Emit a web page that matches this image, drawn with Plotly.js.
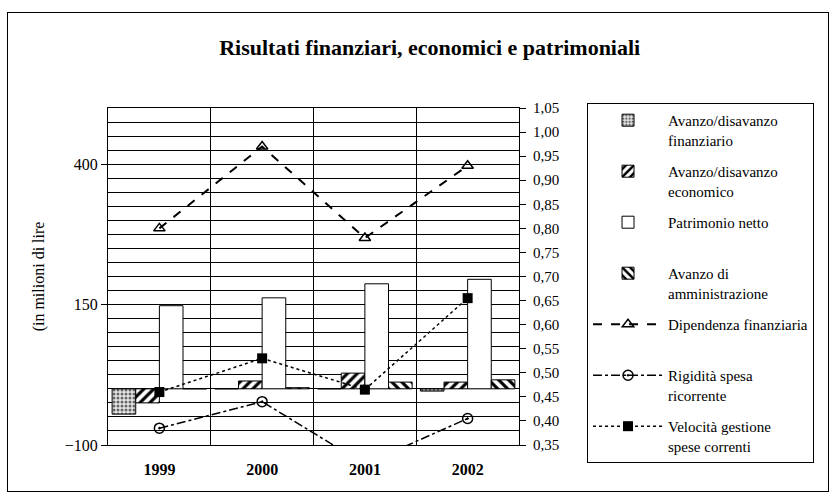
<!DOCTYPE html>
<html>
<head>
<meta charset="utf-8">
<script src="https://cdn.plot.ly/plotly-3.0.1.min.js"></script>
<style>
  html, body { margin: 0; padding: 0; background: #fff; }
  #chart { width: 836px; height: 502px; }
  /* outer frame of the scanned figure */
  #frame { position: absolute; left: 7px; top: 12px; width: 820px; height: 478px; border: 1.5px solid #000; pointer-events: none; }
</style>
</head>
<body>
<div id="chart"></div>
<div id="frame"></div>
<script>
const years = ['1999', '2000', '2001', '2002'];

// bars - left axis (in milioni di lire)
const avanzoFinanziario = [-45, 0, 0, -4];
const avanzoEconomico = [-25, 14, 28, 12];
const patrimonioNetto = [148, 162, 187, 195];
const avanzoAmministrazione = [0, 2, 12, 16];

// indicators - right axis
const dipendenzaFinanziaria = [0.80, 0.97, 0.78, 0.93];
const rigiditaSpesa = [0.385, 0.44, 0.31, 0.405];
const velocitaGestione = [0.46, 0.53, 0.465, 0.655];

const serif = 'Liberation Serif, Times New Roman, serif';
const black = '#000';

const barLine = { color: black, width: 1 };

const data = [{
  x: years, y: avanzoFinanziario, type: 'bar',
  name: 'Avanzo/disavanzo<br>finanziario', legendgroup: 'a',
  marker: { color: '#fff', line: barLine,
    pattern: { shape: '.', size: 4, solidity: 0.45, fgcolor: '#666', bgcolor: '#e6e6e6' } }
}, {
  x: years, y: avanzoEconomico, type: 'bar',
  name: 'Avanzo/disavanzo<br>economico', legendgroup: 'b',
  marker: { color: '#fff', line: barLine,
    pattern: { shape: '/', size: 7, solidity: 0.45, fgcolor: black, bgcolor: '#fff' } }
}, {
  x: years, y: patrimonioNetto, type: 'bar',
  name: 'Patrimonio netto<br> ', legendgroup: 'c',
  marker: { color: '#fff', line: barLine }
}, {
  x: years, y: avanzoAmministrazione, type: 'bar',
  name: 'Avanzo di<br>amministrazione', legendgroup: 'd',
  marker: { color: '#fff', line: barLine,
    pattern: { shape: '\\', size: 7, solidity: 0.45, fgcolor: black, bgcolor: '#fff' } }
}, {
  x: years, y: dipendenzaFinanziaria, type: 'scatter', mode: 'lines+markers', yaxis: 'y2',
  name: 'Dipendenza finanziaria<br> ', legendgroup: 'e',
  line: { color: black, width: 2, dash: 'dash' },
  marker: { symbol: 'triangle-up-open', size: 10, color: black, line: { width: 1.5 } }
}, {
  x: years, y: rigiditaSpesa, type: 'scatter', mode: 'lines+markers', yaxis: 'y2',
  name: 'Rigidità spesa<br>ricorrente', legendgroup: 'f',
  line: { color: black, width: 1.5, dash: 'dashdot' },
  marker: { symbol: 'circle-open-dot', size: 10, color: black, line: { width: 1.5 } }
}, {
  x: years, y: velocitaGestione, type: 'scatter', mode: 'lines+markers', yaxis: 'y2',
  name: 'Velocità gestione<br>spese correnti', legendgroup: 'g',
  line: { color: black, width: 1.5, dash: 'dot' },
  marker: { symbol: 'square', size: 10, color: black }
}];

const layout = {
  width: 836,
  height: 502,
  paper_bgcolor: '#fff',
  plot_bgcolor: '#fff',
  separators: ',.',
  font: { family: serif, color: black, size: 15 },
  margin: { l: 108, r: 317, t: 108, b: 57 },
  barmode: 'group',
  bargap: 0.08,
  bargroupgap: 0,
  title: {
    text: '<b>Risultati finanziari, economici e patrimoniali</b>',
    font: { family: serif, size: 22, color: black },
    x: 0.514, xref: 'container', xanchor: 'center',
    y: 0.906, yref: 'container', yanchor: 'middle'
  },
  xaxis: {
    type: 'category',
    tickson: 'boundaries',
    ticks: '',
    showgrid: true, gridcolor: black, gridwidth: 1,
    showline: true, linecolor: black, linewidth: 1, mirror: true,
    tickfont: { family: serif, size: 16, weight: 'bold' },
    ticklabelstandoff: 10,
    zeroline: false
  },
  yaxis: {
    range: [-100, 500],
    tick0: -100, dtick: 250,
    ticks: 'outside', ticklen: 6, tickcolor: black,
    showgrid: true, gridcolor: black, gridwidth: 1,
    minor: { dtick: 25, showgrid: true, gridcolor: black, gridwidth: 1, ticks: '' },
    showline: true, linecolor: black, linewidth: 1,
    zeroline: false,
    tickfont: { family: serif, size: 16 },
    title: { text: '(in milioni di lire', font: { family: serif, size: 16 }, standoff: 16 }
  },
  yaxis2: {
    overlaying: 'y', side: 'right',
    range: [0.35, 1.05],
    tick0: 0.35, dtick: 0.05, tickformat: '.2f',
    ticks: 'outside', ticklen: 6, tickcolor: black,
    showgrid: false, zeroline: false,
    showline: true, linecolor: black, linewidth: 1,
    tickfont: { family: serif, size: 15 },
    ticklabelstandoff: 4
  },
  showlegend: true,
  legend: {
    x: 1.1655, xanchor: 'left',
    y: 1.015, yanchor: 'top',
    bgcolor: '#fff',
    bordercolor: black, borderwidth: 1,
    traceorder: 'grouped',
    tracegroupgap: 9,
    valign: 'top',
    itemwidth: 70,
    maxheight: 400,
    font: { family: serif, size: 15, color: black }
  }
};

Plotly.newPlot('chart', data, layout, { displayModeBar: false, staticPlot: true });
</script>
</body>
</html>
